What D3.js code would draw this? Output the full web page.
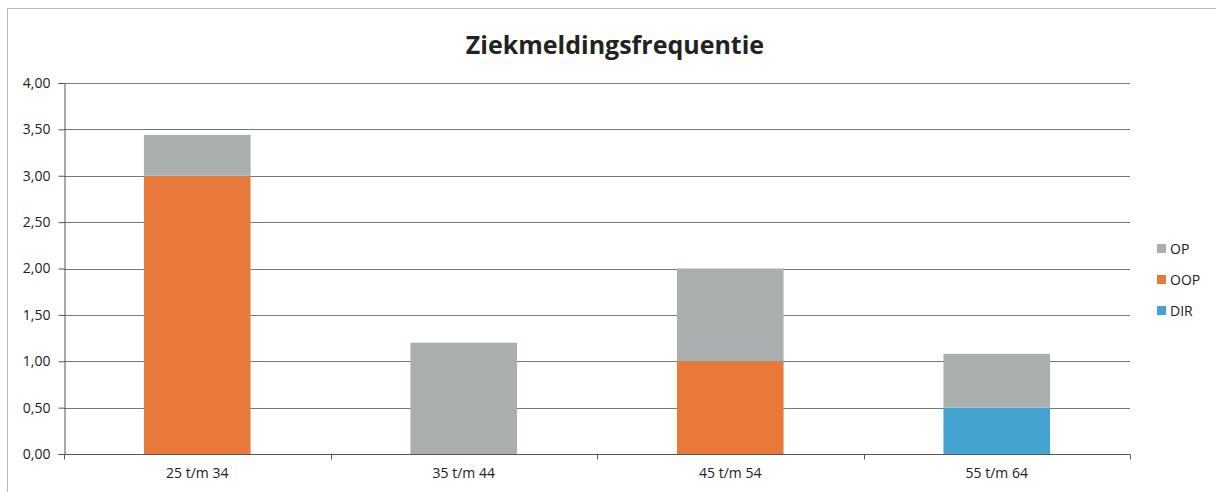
<!DOCTYPE html>
<html>
<head>
<meta charset="utf-8">
<script src="https://cdn.jsdelivr.net/npm/d3@7"></script>
<style>
  body { margin: 0; background: #fff; }
  text { font-family: "Open Sans", "DejaVu Sans", sans-serif; fill: #222; }
</style>
</head>
<body>
<script>
// data
var categories = ["25 t/m 34", "35 t/m 44", "45 t/m 54", "55 t/m 64"];
var series = ["DIR", "OOP", "OP"]; // bottom to top
var dirValues = [0, 0, 0, 0.5];
var oopValues = [3.0, 0, 1.0, 0];
var opValues = [0.44, 1.2, 1.0, 0.58];
var yTicks = [0, 0.5, 1, 1.5, 2, 2.5, 3, 3.5, 4];
var colors = { OP: "#a9aeaf", OOP: "#e9793a", DIR: "#45a3d1" };

var w = 1216, h = 492;
var margin = { left: 64, right: 86, top: 83, bottom: 38 };

var svg = d3.select("body").append("svg")
    .attr("width", w)
    .attr("height", h);

// outer chart border
svg.append("rect")
    .attr("x", 7.5).attr("y", 8.5)
    .attr("width", w + 10).attr("height", h + 10)
    .style("fill", "none")
    .style("stroke", "#bbb");

// title
svg.append("text")
    .attr("x", 615).attr("y", 54)
    .attr("text-anchor", "middle")
    .style("font-size", "25px")
    .style("font-weight", "bold")
    .text("Ziekmeldingsfrequentie");

var x = d3.scaleBand()
    .domain(categories)
    .range([margin.left, w - margin.right])
    .paddingInner(0.6)
    .paddingOuter(0.3);

var y = d3.scaleLinear()
    .domain([0, 4])
    .range([h - margin.bottom, margin.top]);

var fmt = function(d){ return d3.format(".2f")(d).replace(".", ","); };

// gridlines
svg.append("g").selectAll("line")
    .data(yTicks)
    .enter().append("line")
    .attr("x1", margin.left).attr("x2", w - margin.right)
    .attr("y1", function(d){ return Math.round(y(d)) + 0.5; })
    .attr("y2", function(d){ return Math.round(y(d)) + 0.5; })
    .style("stroke", "#777")
    .style("stroke-width", 1);

// stacked bars
var rows = categories.map(function(c, i){
    return { cat: c, DIR: dirValues[i], OOP: oopValues[i], OP: opValues[i] };
});
var stack = d3.stack().keys(series)(rows);

svg.append("g").selectAll("g")
    .data(stack)
    .enter().append("g")
    .style("fill", function(d){ return colors[d.key]; })
    .selectAll("rect")
    .data(function(d){ return d; })
    .enter().append("rect")
    .attr("x", function(d){ return x(d.data.cat); })
    .attr("width", x.bandwidth())
    .attr("y", function(d){ return y(d[1]); })
    .attr("height", function(d){ return y(d[0]) - y(d[1]); });

// y axis
var yAxis = svg.append("g")
    .attr("transform", "translate(" + (margin.left + 0.5) + ",0)")
    .call(d3.axisLeft(y).tickValues(yTicks).tickFormat(fmt).tickSize(6).tickPadding(8));
yAxis.select(".domain").style("stroke", "#555");
yAxis.selectAll(".tick line").style("stroke", "#555");
yAxis.selectAll("text").style("font-size", "14px").style("fill", "#222").style("font-family", "'Open Sans', sans-serif");

// x axis with ticks at band boundaries
var xAxisY = Math.round(y(0)) + 0.5;
svg.append("line")
    .attr("x1", margin.left).attr("x2", w - margin.right)
    .attr("y1", xAxisY).attr("y2", xAxisY)
    .style("stroke", "#555");
var bounds = categories.map(function(c){ return x(c) - x.step() * x.paddingInner() / 2; });
bounds.push(w - margin.right);
svg.append("g").selectAll("line")
    .data(bounds)
    .enter().append("line")
    .attr("x1", function(d){ return Math.round(d) + 0.5; })
    .attr("x2", function(d){ return Math.round(d) + 0.5; })
    .attr("y1", xAxisY).attr("y2", xAxisY + 5)
    .style("stroke", "#555");
svg.append("g").selectAll("text")
    .data(categories)
    .enter().append("text")
    .attr("x", function(d){ return x(d) + x.bandwidth() / 2; })
    .attr("y", 478)
    .attr("text-anchor", "middle")
    .style("font-size", "14px")
    .text(function(d){ return d; });

// legend
var legendKeys = ["OP", "OOP", "DIR"];
var legend = svg.append("g").selectAll("g")
    .data(legendKeys)
    .enter().append("g")
    .attr("transform", function(d, i){ return "translate(1157," + (248 + i * 31) + ")"; });
legend.append("rect")
    .attr("x", 0).attr("y", -4)
    .attr("width", 9).attr("height", 9)
    .style("fill", function(d){ return colors[d]; });
legend.append("text")
    .attr("x", 13).attr("y", 5.5)
    .style("font-size", "14px")
    .text(function(d){ return d; });
</script>
</body>
</html>
